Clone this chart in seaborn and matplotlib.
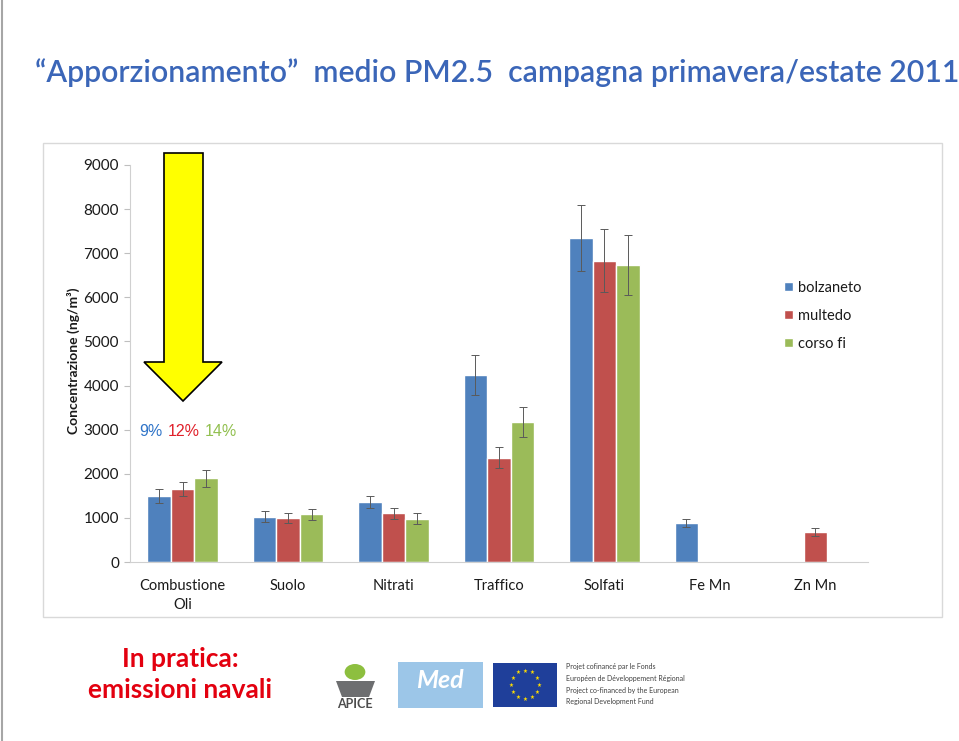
import matplotlib
matplotlib.use("Agg")
import matplotlib.pyplot as plt
import seaborn as sns
import pandas as pd
import numpy as np
from matplotlib.patches import Rectangle, Polygon, Circle
from matplotlib.ticker import FixedLocator

# ---------------- data ----------------
categories = ["Combustione\nOli", "Suolo", "Nitrati", "Traffico", "Solfati", "Fe Mn", "Zn Mn"]
series = ["bolzaneto", "multedo", "corso fi"]
bolzaneto = [1500, 1030, 1360, 4240, 7350, 880, None]
multedo = [1650, 1000, 1100, 2360, 6830, None, 670]
corso_fi = [1900, 1080, 980, 3170, 6730, None, None]
bolzaneto_err = [160, 120, 145, 450, 750, 90, None]
multedo_err = [155, 110, 120, 240, 710, None, 90]
corso_fi_err = [190, 120, 120, 340, 680, None, None]
y_ticks = [0, 1000, 2000, 3000, 4000, 5000, 6000, 7000, 8000, 9000]
shares = ["9%", "12%", "14%"]
colors = ["#4F81BD", "#C0504D", "#9BBB59"]
share_colors = ["#2F74C8", "#E0202A", "#92C050"]

values = {"bolzaneto": bolzaneto, "multedo": multedo, "corso fi": corso_fi}
errors = {"bolzaneto": bolzaneto_err, "multedo": multedo_err, "corso fi": corso_fi_err}

rows = []
for s in series:
    for c, v in zip(categories, values[s]):
        if v is not None:
            rows.append({"categoria": c, "stazione": s, "valore": v})
df = pd.DataFrame(rows)

# ---------------- figure ----------------
sns.set_style("white")
plt.rcParams["font.family"] = ["Lato", "DejaVu Sans"]

W, H = 959, 741
fig = plt.figure(figsize=(W / 100, H / 100), dpi=100)
fig.patch.set_facecolor("white")


def fx(x):
    return x / W


def fy(y):
    return 1 - y / H


# slide left border
fig.add_artist(plt.Line2D([fx(2), fx(2)], [0, 1], color="#A6A6A6", lw=1.5))
# chart frame
fig.add_artist(Rectangle((fx(43), fy(617)), fx(942) - fx(43), fy(143) - fy(617),
                         fill=False, edgecolor="#D9D9D9", lw=1.0))

ax = fig.add_axes([fx(130), fy(562), fx(868) - fx(130), fy(165) - fy(562)])

sns.barplot(data=df, x="categoria", y="valore", hue="stazione", order=categories,
            hue_order=series, palette=colors, width=0.67, saturation=1,
            errorbar=None, ax=ax)

# error bars from bar geometry
for s, cont in zip(series, ax.containers):
    for bar in cont:
        xc = bar.get_x() + bar.get_width() / 2
        h = bar.get_height()
        if not np.isfinite(h):
            continue
        idx = int(round(xc))
        e = errors[s][idx]
        if e is None:
            continue
        ax.errorbar(xc, h, yerr=e, fmt="none", ecolor="#5A5A5A",
                    elinewidth=0.7, capsize=3, capthick=0.7, zorder=5)

ax.set_ylim(0, 9000)
ax.set_xlim(-0.5, len(categories) - 0.5)
ax.set_yticks(y_ticks)
ax.set_yticklabels([str(t) for t in y_ticks], fontsize=11, color="#1A1A1A")
ax.set_xticks(range(len(categories)))
ax.set_xticklabels(categories, fontsize=10.5, color="#1A1A1A", linespacing=1.45)
ax.xaxis.set_minor_locator(FixedLocator(np.arange(-0.5, len(categories), 1.0)))
ax.tick_params(axis="x", which="major", length=0, pad=12)
ax.tick_params(axis="x", which="minor", length=4, color="#BFBFBF", width=0.8)
ax.tick_params(axis="y", length=4, color="#BFBFBF", width=0.8, pad=4, left=True)
for side in ["top", "right"]:
    ax.spines[side].set_visible(False)
for side in ["left", "bottom"]:
    ax.spines[side].set_color("#D0D0D0")
    ax.spines[side].set_linewidth(0.8)
ax.set_xlabel("")
ax.set_ylabel("")

# legend
handles, labels = ax.get_legend_handles_labels()
leg = ax.legend(handles, labels, loc="upper left", bbox_to_anchor=(fx(778), fy(275)),
                bbox_transform=fig.transFigure, frameon=False, fontsize=10.5,
                handlelength=0.6, handleheight=0.6, handletextpad=0.35,
                labelspacing=0.95, borderaxespad=0)
for t in leg.get_texts():
    t.set_color("#1A1A1A")

# y axis label
fig.text(fx(73), fy(361), "Concentrazione (ng/m³)", rotation=90, ha="center",
         va="center", fontsize=10, fontweight="bold", color="#1A1A1A")

# title
fig.text(fx(497), fy(73), "“Apporzionamento”  medio PM2.5  campagna primavera/estate 2011",
         ha="center", va="center", fontsize=21.8, color="#3B66B8",
         fontweight="semibold")

# yellow arrow (annotation)
arrow = [(164, 153), (203, 153), (203, 362), (222, 362), (183, 401),
         (144, 362), (164, 362)]
fig.add_artist(Polygon([(fx(x), fy(y)) for x, y in arrow], closed=True,
                       facecolor="#FFFF00", edgecolor="black", lw=1.2))

# shares text
for txt, col, x in zip(shares, share_colors, [139, 168, 205]):
    fig.text(fx(x), fy(432), txt, color=col, fontsize=11.5,
             family=["Liberation Sans", "DejaVu Sans"], ha="left", va="center")

# bottom red text
fig.text(fx(180), fy(659), "In pratica:", ha="center", va="center", fontsize=19,
         color="#E3000F", fontweight="bold",
         family=["Liberation Sans Narrow", "Lato", "DejaVu Sans"])
fig.text(fx(180), fy(690), "emissioni navali", ha="center", va="center", fontsize=19,
         color="#E3000F", fontweight="bold",
         family=["Liberation Sans Narrow", "Lato", "DejaVu Sans"])

# logos (approximate)
fig.add_artist(Circle((fx(355), fy(672)), 8 / H, transform=fig.transFigure,
                      facecolor="#8DBF3F", edgecolor="none"))
fig.add_artist(Polygon([(fx(336), fy(681)), (fx(375), fy(681)), (fx(369), fy(697)),
                        (fx(342), fy(697))], closed=True, facecolor="#6D6E70",
                       edgecolor="none"))
fig.text(fx(355), fy(704), "APICE", ha="center", va="center", fontsize=9,
         color="#4D4D4D", fontweight="bold")
fig.add_artist(Rectangle((fx(398), fy(708)), fx(483) - fx(398), fy(662) - fy(708),
                         facecolor="#9CC6E8", edgecolor="none"))
fig.text(fx(440), fy(680), "Med", ha="center", va="center", fontsize=18,
         color="white", fontstyle="italic", fontweight="bold")
fig.add_artist(Rectangle((fx(493), fy(707)), fx(557) - fx(493), fy(663) - fy(707),
                         facecolor="#1F3F9A", edgecolor="none"))
for k in range(12):
    a = 2 * np.pi * k / 12
    fig.text(fx(525 + 14 * np.cos(a)), fy(685 + 14 * np.sin(a)), "★", ha="center",
             va="center", fontsize=4, color="#FFDD00", family="DejaVu Sans")
for i, line in enumerate(["Projet cofinancé par le Fonds",
                          "Européen de Développement Régional",
                          "Project co-financed by the European",
                          "Regional Development Fund"]):
    fig.text(fx(566), fy(667 + i * 11.5), line, ha="left", va="center",
             fontsize=5, color="#404040")

fig.savefig("out.png", dpi=100, facecolor="white")
